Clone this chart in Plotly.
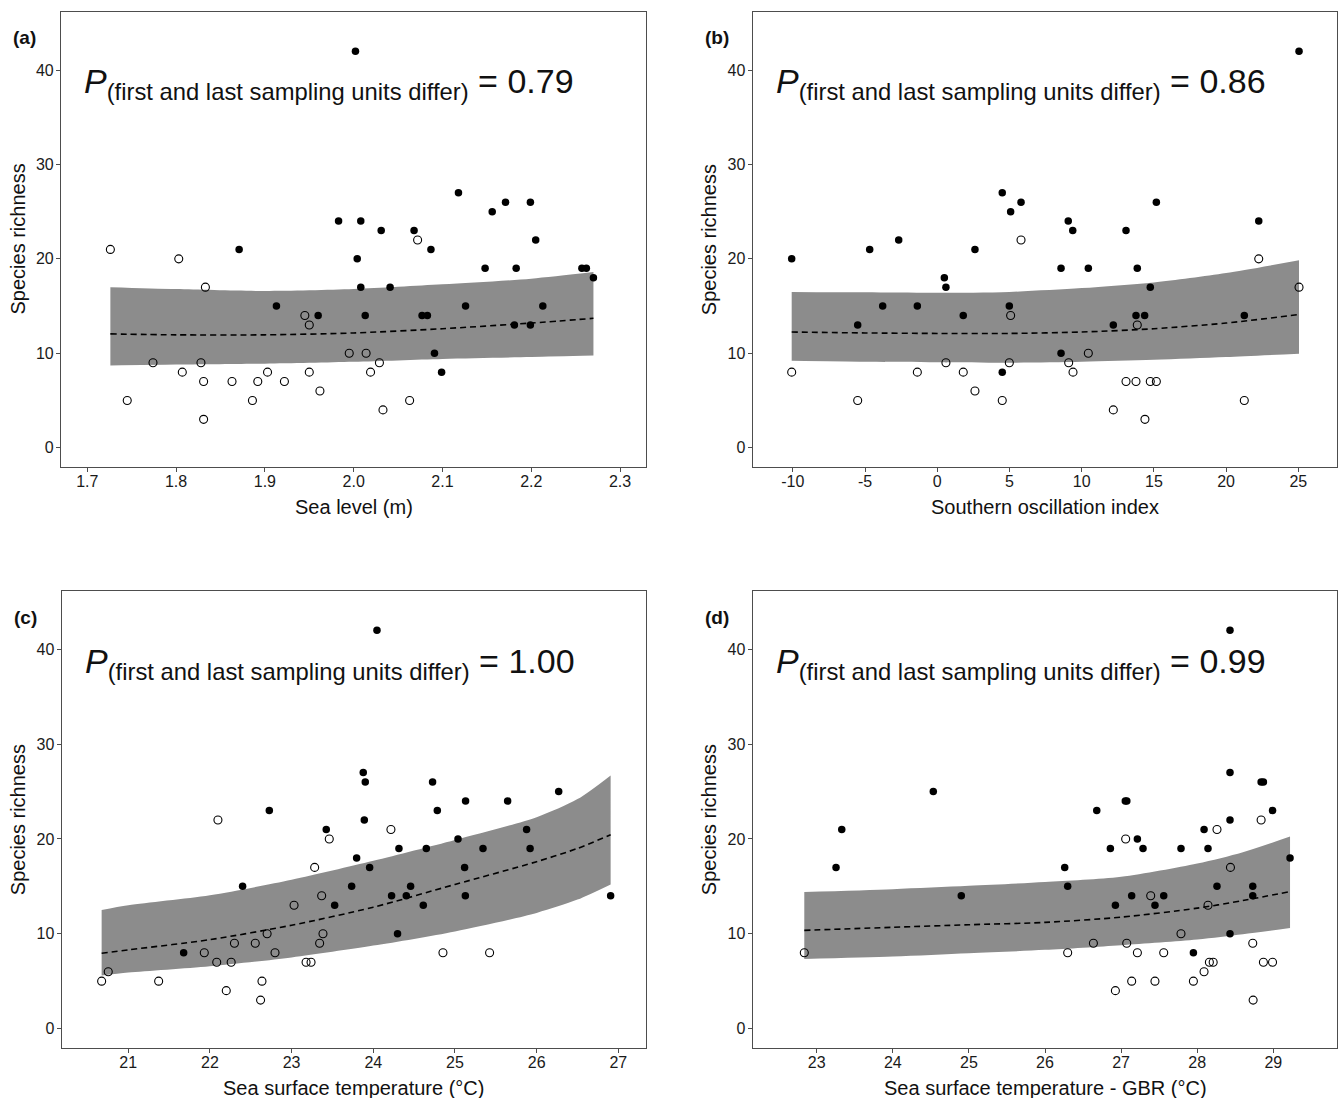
import plotly.graph_objects as go

# ---------------- data ----------------
# Panel (a): sea level
a_open_x = [1.726, 1.745, 1.774, 1.803, 1.807, 1.828, 1.831, 1.831, 1.833, 1.863, 1.886, 1.892, 1.903,
            1.922, 1.945, 1.950, 1.950, 1.962, 1.995, 2.014, 2.019, 2.029, 2.033, 2.063, 2.072]
a_open_y = [21, 5, 9, 20, 8, 9, 7, 3, 17, 7, 5, 7, 8, 7, 14, 13, 8, 6, 10, 10, 8, 9, 4, 5, 22]
a_fill_x = [1.871, 1.913, 1.960, 1.983, 2.002, 2.004, 2.008, 2.008, 2.013, 2.031, 2.041, 2.068, 2.077,
            2.083, 2.087, 2.091, 2.099, 2.118, 2.126, 2.148, 2.156, 2.171, 2.181, 2.183, 2.199, 2.199,
            2.205, 2.213, 2.257, 2.262, 2.270]
a_fill_y = [21, 15, 14, 24, 42, 20, 24, 17, 14, 23, 17, 23, 14, 14, 21, 10, 8, 27, 15, 19, 25, 26, 13,
            19, 26, 13, 22, 15, 19, 19, 18]
a_fit_x = [1.726, 1.80, 1.90, 2.00, 2.10, 2.20, 2.27]
a_fit_mid = [12.05, 11.95, 11.95, 12.15, 12.6, 13.2, 13.7]
a_fit_lo = [8.7, 8.8, 8.9, 9.1, 9.4, 9.6, 9.75]
a_fit_hi = [17.0, 16.8, 16.6, 16.8, 17.3, 17.9, 18.6]

# Panel (b): southern oscillation index
b_open_x = [-10.08, -5.51, -1.38, 0.60, 1.80, 2.61, 4.50, 4.99, 5.08, 5.80, 9.10, 9.40, 10.46, 12.19,
            13.07, 13.76, 13.85, 14.38, 14.75, 15.17, 21.26, 22.26, 25.05]
b_open_y = [8, 5, 8, 9, 8, 6, 5, 9, 14, 22, 9, 8, 10, 4, 7, 7, 13, 3, 7, 7, 5, 20, 17]
b_fill_x = [-10.08, -5.51, -4.68, -3.78, -2.67, -1.38, 0.49, 0.60, 1.80, 2.61, 4.50, 4.50, 4.99, 5.08,
            5.80, 8.57, 8.57, 9.07, 9.38, 10.46, 12.19, 13.07, 13.76, 13.85, 14.36, 14.75, 15.17,
            21.26, 22.26, 25.05]
b_fill_y = [20, 13, 21, 15, 22, 15, 18, 17, 14, 21, 27, 8, 15, 25, 26, 19, 10, 24, 23, 19, 13, 23, 14,
            19, 14, 17, 26, 14, 24, 42]
b_fit_x = [-10.08, -5, 0, 5, 10, 15, 20, 25.05]
b_fit_mid = [12.25, 12.15, 12.1, 12.1, 12.25, 12.6, 13.2, 14.1]
b_fit_lo = [9.2, 9.1, 9.05, 9.0, 9.1, 9.3, 9.6, 9.95]
b_fit_hi = [16.5, 16.45, 16.4, 16.5, 16.9, 17.5, 18.5, 19.85]

# Panel (c): sea surface temperature
c_open_x = [20.674, 20.755, 21.372, 21.931, 22.083, 22.098, 22.20, 22.26, 22.30, 22.555, 22.62, 22.637,
            22.70, 22.797, 23.03, 23.177, 23.238, 23.282, 23.343, 23.368, 23.384, 23.461, 24.216,
            24.853, 25.424]
c_open_y = [5, 6, 5, 8, 7, 22, 4, 7, 9, 9, 3, 5, 10, 8, 13, 7, 7, 17, 9, 14, 10, 20, 21, 8, 8]
c_fill_x = [21.678, 22.40, 22.727, 23.424, 23.527, 23.735, 23.796, 23.877, 23.89, 23.902, 23.955,
            24.045, 24.224, 24.297, 24.314, 24.404, 24.457, 24.612, 24.649, 24.726, 24.784, 25.037,
            25.118, 25.127, 25.13, 25.343, 25.645, 25.877, 25.92, 26.27, 26.906]
c_fill_y = [8, 15, 23, 21, 13, 15, 18, 27, 22, 26, 17, 42, 14, 10, 19, 14, 15, 13, 19, 26, 23, 20, 17,
            14, 24, 19, 24, 21, 19, 25, 14]
c_fit_x = [20.674, 21, 22, 23, 24, 25, 26, 26.5, 26.906]
c_fit_mid = [7.94, 8.3, 9.38, 10.9, 12.8, 15.2, 17.6, 19.0, 20.44]
c_fit_lo = [5.6, 5.9, 6.57, 7.5, 8.75, 10.25, 12.2, 13.6, 15.2]
c_fit_hi = [12.5, 13.0, 14.05, 15.7, 17.7, 19.9, 22.3, 24.2, 26.7]

# Panel (d): sea surface temperature - GBR
d_open_x = [22.837, 26.298, 26.636, 26.925, 27.06, 27.074, 27.139, 27.214, 27.389, 27.445, 27.56,
            27.787, 27.95, 28.09, 28.142, 28.16, 28.21, 28.26, 28.437, 28.73, 28.735, 28.84, 28.87,
            28.99]
d_open_y = [8, 8, 9, 4, 20, 9, 5, 8, 14, 5, 8, 10, 5, 6, 13, 7, 7, 21, 17, 9, 3, 22, 7, 7]
d_fill_x = [23.254, 23.329, 24.532, 24.90, 26.259, 26.298, 26.68, 26.859, 26.925, 27.055, 27.075,
            27.139, 27.214, 27.288, 27.445, 27.56, 27.787, 27.95, 28.09, 28.142, 28.26, 28.431, 28.431,
            28.431, 28.431, 28.73, 28.73, 28.84, 28.87, 28.99, 29.22]
d_fill_y = [17, 21, 25, 14, 17, 15, 23, 19, 13, 24, 24, 14, 20, 19, 13, 14, 19, 8, 21, 19, 15, 42, 27,
            22, 10, 15, 14, 26, 26, 23, 18]
d_fit_x = [22.837, 24, 25, 26, 27, 28, 28.6, 29.22]
d_fit_mid = [10.36, 10.68, 10.95, 11.2, 11.75, 12.7, 13.5, 14.45]
d_fit_lo = [7.34, 7.6, 7.95, 8.3, 8.8, 9.4, 9.95, 10.6]
d_fit_hi = [14.4, 14.7, 15.05, 15.45, 16.0, 17.4, 18.6, 20.25]

x_titles = ["Sea level (m)", "Southern oscillation index", "Sea surface temperature (°C)",
            "Sea surface temperature - GBR (°C)"]
panel_labels = ["(a)", "(b)", "(c)", "(d)"]
p_values = ["0.79", "0.86", "1.00", "0.99"]
x_tickvals = [[1.7, 1.8, 1.9, 2.0, 2.1, 2.2, 2.3],
              [-10, -5, 0, 5, 10, 15, 20, 25],
              [21, 22, 23, 24, 25, 26, 27],
              [23, 24, 25, 26, 27, 28, 29]]
x_ticktext = [["1.7", "1.8", "1.9", "2.0", "2.1", "2.2", "2.3"],
              ["-10", "-5", "0", "5", "10", "15", "20", "25"],
              ["21", "22", "23", "24", "25", "26", "27"],
              ["23", "24", "25", "26", "27", "28", "29"]]
y_tickvals = [0, 10, 20, 30, 40]
y_ticktext = ["0", "10", "20", "30", "40"]

# ---------------- layout geometry ----------------
W, H = 1341, 1098
FONT = "Liberation Sans, Arial, Helvetica, sans-serif"
AX = "#4d4d4d"

panels = [
    dict(open=(a_open_x, a_open_y), fill=(a_fill_x, a_fill_y),
         fit=(a_fit_x, a_fit_mid, a_fit_lo, a_fit_hi), px=(61, 646), py=(12, 467), xr=[1.6704, 2.3292]),
    dict(open=(b_open_x, b_open_y), fill=(b_fill_x, b_fill_y),
         fit=(b_fit_x, b_fit_mid, b_fit_lo, b_fit_hi), px=(752.7, 1337.3), py=(12, 467), xr=[-12.78, 27.70]),
    dict(open=(c_open_x, c_open_y), fill=(c_fill_x, c_fill_y),
         fit=(c_fit_x, c_fit_mid, c_fit_lo, c_fit_hi), px=(61.7, 646), py=(591, 1048), xr=[20.185, 27.339]),
    dict(open=(d_open_x, d_open_y), fill=(d_fill_x, d_fill_y),
         fit=(d_fit_x, d_fit_mid, d_fit_lo, d_fit_hi), px=(752.7, 1337.3), py=(591, 1048), xr=[22.159, 29.841]),
]
YR = [-2.05, 46.15]

fig = go.Figure()
annotations = []
layout_axes = {}

for i, p in enumerate(panels):
    n = "" if i == 0 else str(i + 1)
    xa, ya = "x" + n, "y" + n
    fx, fmid, flo, fhi = p["fit"]
    # ribbon
    fig.add_trace(go.Scatter(x=fx, y=flo, mode="lines",
                             line=dict(width=0, shape="spline", smoothing=0.8, color="#8c8c8c"),
                             xaxis=xa, yaxis=ya, showlegend=False, hoverinfo="skip"))
    fig.add_trace(go.Scatter(x=fx, y=fhi, mode="lines",
                             line=dict(width=0, shape="spline", smoothing=0.8, color="#8c8c8c"),
                             fill="tonexty", fillcolor="#8c8c8c",
                             xaxis=xa, yaxis=ya, showlegend=False, hoverinfo="skip"))
    # fitted mean
    fig.add_trace(go.Scatter(x=fx, y=fmid, mode="lines",
                             line=dict(width=1.6, color="black", dash="6px,4px", shape="spline", smoothing=0.8),
                             xaxis=xa, yaxis=ya, showlegend=False))
    # points
    fig.add_trace(go.Scatter(x=p["open"][0], y=p["open"][1], mode="markers",
                             marker=dict(symbol="circle-open", size=8, color="black", line=dict(width=1.1)),
                             xaxis=xa, yaxis=ya, showlegend=False))
    fig.add_trace(go.Scatter(x=p["fill"][0], y=p["fill"][1], mode="markers",
                             marker=dict(symbol="circle", size=7.5, color="black"),
                             xaxis=xa, yaxis=ya, showlegend=False))

    x0, x1 = p["px"]
    y0, y1 = p["py"]
    common = dict(showline=True, mirror=True, linecolor=AX, linewidth=1.2, ticks="outside", ticklen=4,
                  tickcolor=AX, tickwidth=1, showgrid=False, zeroline=False,
                  tickfont=dict(family=FONT, size=16, color="#1a1a1a"))
    layout_axes["xaxis" + n] = dict(common, domain=[x0 / W, x1 / W], range=p["xr"], anchor=ya,
                                    tickmode="array", tickvals=x_tickvals[i], ticktext=x_ticktext[i],
                                    ticklabelstandoff=-4)
    layout_axes["yaxis" + n] = dict(common, domain=[1 - y1 / H, 1 - y0 / H], range=YR, anchor=xa,
                                    tickmode="array", tickvals=y_tickvals, ticktext=y_ticktext,
                                    ticklabelstandoff=-1)

    # x-axis title
    annotations.append(dict(text=x_titles[i], xref="paper", yref="paper", x=(x0 + x1) / 2 / W,
                            y=1 - (y1 + 40) / H, xanchor="center", yanchor="middle", showarrow=False,
                            font=dict(family=FONT, size=20, color="#111111")))
    # y-axis title
    annotations.append(dict(text="Species richness", xref="paper", yref="paper", x=(x0 - 44) / W,
                            y=1 - ((y0 + y1) / 2) / H, xanchor="center", yanchor="middle", showarrow=False,
                            textangle=-90, font=dict(family=FONT, size=20, color="#111111")))
    # panel label
    annotations.append(dict(text="<b>" + panel_labels[i] + "</b>", xref="paper", yref="paper",
                            x=(x0 - 50) / W, y=1 - (y0 + 26) / H, xanchor="left", yanchor="middle",
                            showarrow=False, font=dict(family=FONT, size=19, color="#111111")))
    # P annotation
    annotations.append(dict(text="<i>P</i><sub>(first and last sampling units differ)</sub> = " + p_values[i],
                            xref="paper", yref="paper", x=(x0 + 21) / W, y=1 - (y0 + 72) / H,
                            xanchor="left", yanchor="middle", showarrow=False,
                            font=dict(family=FONT, size=34, color="#111111")))

fig.update_layout(width=W, height=H, margin=dict(l=0, r=0, t=0, b=0),
                  paper_bgcolor="white", plot_bgcolor="white", showlegend=False,
                  annotations=annotations, **layout_axes)

fig.write_html("out.html", config={"displayModeBar": False},
               post_script="document.body.style.margin='0';")
